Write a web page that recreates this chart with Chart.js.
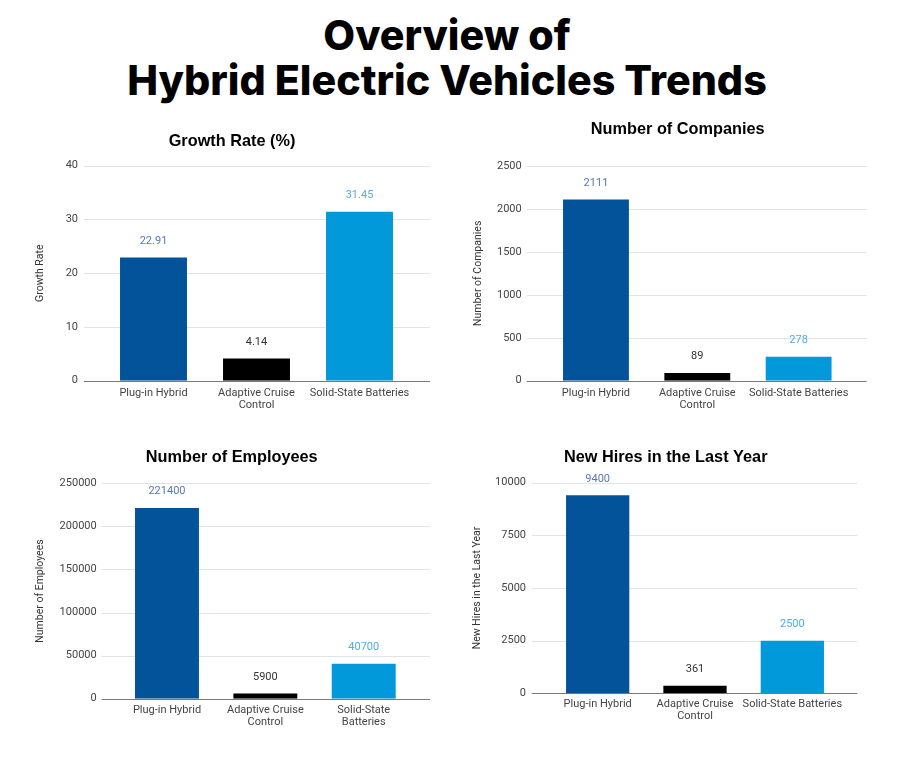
<!DOCTYPE html>
<html>
<head>
<meta charset="utf-8">
<script src="https://cdn.jsdelivr.net/npm/chart.js@4"></script>
<style>
  html, body { margin: 0; padding: 0; background: #ffffff; }
  body { width: 900px; height: 759px; position: relative; overflow: hidden; }
  #mainTitle {
    position: absolute; left: -3px; top: 13px; width: 900px; text-align: center;
    font-family: Inter, "DejaVu Sans", sans-serif; font-weight: 800; font-size: 41.2px;
    line-height: 45px; color: #000;
  }
  .box { position: absolute; width: 450px; }
  .box canvas { display: block; }
</style>
</head>
<body>
<div id="mainTitle">Overview of<br>Hybrid Electric Vehicles Trends</div>
<div class="box" style="left:0;top:110px;height:330px"><canvas id="c1"></canvas></div>
<div class="box" style="left:450px;top:110px;height:330px"><canvas id="c2"></canvas></div>
<div class="box" style="left:0;top:440px;height:319px"><canvas id="c3"></canvas></div>
<div class="box" style="left:450px;top:440px;height:319px"><canvas id="c4"></canvas></div>
<script>
// ---- data ----
const categories = ['Plug-in Hybrid', 'Adaptive Cruise Control', 'Solid-State Batteries'];
const labelsWide = ['Plug-in Hybrid', ['Adaptive Cruise', 'Control'], 'Solid-State Batteries'];
const labelsNarrow = ['Plug-in Hybrid', ['Adaptive Cruise', 'Control'], ['Solid-State', 'Batteries']];

const growthRate = [22.91, 4.14, 31.45];
const numCompanies = [2111, 89, 278];
const numEmployees = [221400, 5900, 40700];
const newHires = [9400, 361, 2500];

const titles = ['Growth Rate (%)', 'Number of Companies', 'Number of Employees', 'New Hires in the Last Year'];
const axisTitles = ['Growth Rate', 'Number of Companies', 'Number of Employees', 'New Hires in the Last Year'];
const axisMax = [40, 2500, 250000, 10000];
const axisStep = [10, 500, 50000, 2500];

// ---- styles ----
const barColors = ['#02539a', '#000000', '#0199d9'];
const valueLabelColors = ['#5579b2', '#333333', '#50ace6'];

const gridPlugin = {
  id: 'extGrid',
  beforeDatasetsDraw(chart, args, opts) {
    const {ctx, chartArea} = chart;
    const y = chart.scales.y;
    ctx.save();
    y.ticks.forEach(t => {
      const py = Math.round(y.getPixelForValue(t.value)) + 0.5;
      ctx.beginPath();
      ctx.strokeStyle = t.value === 0 ? '#7a7a7a' : '#e3e3e3';
      ctx.lineWidth = 1;
      ctx.moveTo(chartArea.left - opts.extL, py);
      ctx.lineTo(chartArea.right + opts.extR, py);
      ctx.stroke();
    });
    ctx.restore();
  }
};

const valueLabelPlugin = {
  id: 'valueLabels',
  afterDatasetsDraw(chart) {
    const {ctx} = chart;
    const meta = chart.getDatasetMeta(0);
    const data = chart.data.datasets[0].data;
    ctx.save();
    ctx.font = '11px Roboto';
    ctx.textAlign = 'center';
    ctx.textBaseline = 'middle';
    meta.data.forEach((bar, i) => {
      ctx.fillStyle = valueLabelColors[i];
      ctx.fillText(String(data[i]), bar.x, bar.y - 16.5);
    });
    ctx.restore();
  }
};

const chartTitlePlugin = {
  id: 'chartTitle',
  afterDraw(chart, args, opts) {
    const {ctx} = chart;
    ctx.save();
    ctx.font = 'bold 16.3px "Liberation Sans", Arial, sans-serif';
    ctx.fillStyle = '#000';
    ctx.textAlign = 'center';
    ctx.textBaseline = 'middle';
    ctx.fillText(opts.text, opts.x, opts.y);
    ctx.restore();
  }
};

function makeChart(id, cfg) {
  return new Chart(document.getElementById(id), {
    type: 'bar',
    data: {
      labels: cfg.labels,
      datasets: [{
        data: cfg.data,
        backgroundColor: barColors,
        borderWidth: 0,
        barPercentage: 1,
        categoryPercentage: 0.65
      }]
    },
    options: {
      responsive: true,
      maintainAspectRatio: false,
      animation: false,
      devicePixelRatio: 1,
      layout: { padding: { left: 0, right: cfg.padRight, top: cfg.padTop, bottom: 0 } },
      plugins: {
        legend: { display: false },
        tooltip: { enabled: false },
        title: { display: false },
        chartTitle: { text: cfg.title, x: cfg.titleX, y: cfg.titleY },
        extGrid: { extL: cfg.extL, extR: cfg.extR }
      },
      scales: {
        x: {
          grid: { display: false, drawTicks: false },
          border: { display: false },
          ticks: {
            color: '#444',
            font: { family: 'Roboto', size: 11, lineHeight: 1.05 },
            padding: cfg.xPad,
            maxRotation: 0, minRotation: 0, autoSkip: false
          },
          afterFit: s => { s.height = cfg.xHeight; }
        },
        y: {
          min: 0,
          max: cfg.max,
          grid: { display: false, drawTicks: false },
          border: { display: false },
          ticks: {
            stepSize: cfg.step,
            color: '#444',
            font: { family: 'Roboto', size: 11 },
            padding: cfg.yPad,
            callback: v => String(v)
          },
          title: {
            display: true,
            text: cfg.axisTitle,
            color: '#333',
            font: { family: 'Roboto', size: 10.5, lineHeight: 1.2 },
            padding: { top: cfg.axisTitleTop, bottom: 0 }
          },
          afterFit: s => { s.width = cfg.yWidth; }
        }
      }
    },
    plugins: [gridPlugin, valueLabelPlugin, chartTitlePlugin]
  });
}

makeChart('c1', {
  labels: labelsWide, data: growthRate, title: titles[0], axisTitle: axisTitles[0],
  max: axisMax[0], step: axisStep[0],
  padRight: 39, padTop: 55.7, titleX: 232, titleY: 31.5,
  yWidth: 102, yPad: 24, axisTitleTop: 33.7,
  xHeight: 59.3, xPad: 6.8, extL: 18, extR: 19
});
makeChart('c2', {
  labels: labelsWide, data: numCompanies, title: titles[1], axisTitle: axisTitles[1],
  max: axisMax[1], step: axisStep[1],
  padRight: 50.7, padTop: 56, titleX: 227.7, titleY: 20,
  yWidth: 95.3, yPad: 23.6, axisTitleTop: 21.7,
  xHeight: 59.3, xPad: 6.8, extL: 18.6, extR: 17.4
});
makeChart('c3', {
  labels: labelsNarrow, data: numEmployees, title: titles[2], axisTitle: axisTitles[2],
  max: axisMax[2], step: axisStep[2],
  padRight: 37.1, padTop: 43.3, titleX: 231.7, titleY: 18,
  yWidth: 117.8, yPad: 21.1, axisTitleTop: 33.7,
  xHeight: 60.3, xPad: 6.2, extL: 16.1, extR: 17.1
});
makeChart('c4', {
  labels: labelsWide, data: newHires, title: titles[3], axisTitle: axisTitles[3],
  max: axisMax[3], step: axisStep[3],
  padRight: 59, padTop: 42.7, titleX: 215.7, titleY: 17.4,
  yWidth: 99, yPad: 23, axisTitleTop: 21,
  xHeight: 65.7, xPad: 5.6, extL: 17.3, extR: 16.3
});
</script>
</body>
</html>
